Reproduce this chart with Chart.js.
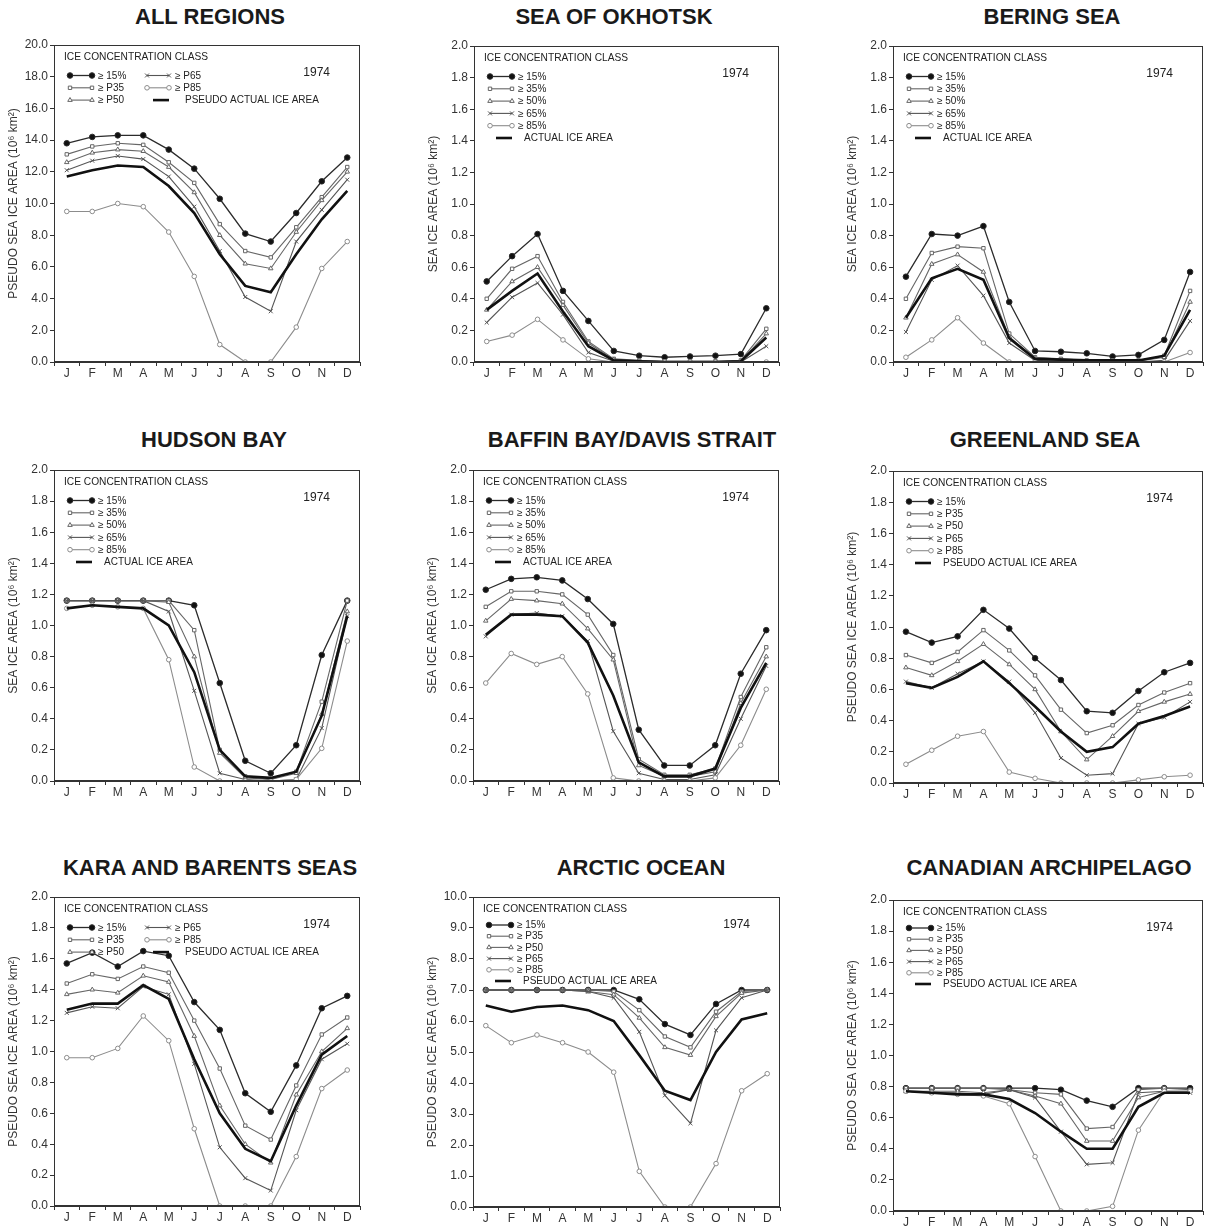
<!DOCTYPE html>
<html lang="en">
<head>
  <meta charset="UTF-8" />
  <title>Sea ice area by concentration class, 1974</title>
  <script src="https://cdn.jsdelivr.net/npm/chart.js"></script>
  <style>
    html, body { margin: 0; padding: 0; background: #fff; overflow: hidden; }
    body {
      width: 1208px;
      height: 1227px;
      position: relative;
      font-family: 'Liberation Sans', Arial, sans-serif;
    }
    .title {
      position: absolute;
      font-weight: bold;
      font-size: 22px;
      color: #1a1a1a;
      white-space: nowrap;
      transform: translate(-50%, -50%);
    }
    .panel { position: absolute; }
  </style>
</head>
<body>

<script>
  const months = ['J', 'F', 'M', 'A', 'M', 'J', 'J', 'A', 'S', 'O', 'N', 'D'];

  // All regions
  const ALL_15  = [13.8, 14.2, 14.3, 14.3, 13.4, 12.2, 10.3, 8.1, 7.6, 9.4, 11.4, 12.9];
  const ALL_35  = [13.1, 13.6, 13.8, 13.7, 12.6, 11.3, 8.7, 7.0, 6.6, 8.5, 10.4, 12.3];
  const ALL_50  = [12.6, 13.2, 13.4, 13.3, 12.3, 10.7, 8.0, 6.2, 5.9, 8.2, 10.2, 12.0];
  const ALL_65  = [12.1, 12.7, 13.0, 12.8, 11.7, 9.8, 7.0, 4.1, 3.2, 7.6, 9.6, 11.5];
  const ALL_85  = [9.5, 9.5, 10.0, 9.8, 8.2, 5.4, 1.1, 0.0, 0.0, 2.2, 5.9, 7.6];
  const ALL_ACT = [11.7, 12.1, 12.4, 12.3, 11.1, 9.4, 6.8, 4.8, 4.4, 6.8, 9.0, 10.8];

  // Sea of Okhotsk
  const OKH_15  = [0.51, 0.67, 0.81, 0.45, 0.26, 0.07, 0.04, 0.03, 0.035, 0.04, 0.05, 0.34];
  const OKH_35  = [0.40, 0.59, 0.67, 0.38, 0.13, 0.02, 0.01, 0.005, 0.005, 0.005, 0.01, 0.21];
  const OKH_50  = [0.33, 0.51, 0.60, 0.36, 0.12, 0.015, 0.005, 0, 0, 0, 0.005, 0.18];
  const OKH_65  = [0.25, 0.41, 0.50, 0.30, 0.06, 0.005, 0, 0, 0, 0, 0, 0.10];
  const OKH_85  = [0.13, 0.17, 0.27, 0.14, 0.02, 0, 0, 0, 0, 0, 0, 0.0];
  const OKH_ACT = [0.33, 0.45, 0.56, 0.32, 0.10, 0.01, 0.005, 0, 0, 0, 0.005, 0.155];

  // Bering Sea
  const BER_15  = [0.54, 0.81, 0.80, 0.86, 0.38, 0.07, 0.065, 0.055, 0.035, 0.045, 0.14, 0.57];
  const BER_35  = [0.40, 0.69, 0.73, 0.72, 0.18, 0.03, 0.02, 0.01, 0.01, 0.01, 0.04, 0.45];
  const BER_50  = [0.28, 0.62, 0.68, 0.57, 0.16, 0.02, 0.01, 0.005, 0.005, 0.005, 0.03, 0.38];
  const BER_65  = [0.19, 0.52, 0.61, 0.42, 0.12, 0.01, 0.005, 0, 0, 0, 0.01, 0.26];
  const BER_85  = [0.03, 0.14, 0.28, 0.12, 0.0, 0, 0, 0, 0, 0, 0, 0.06];
  const BER_ACT = [0.28, 0.53, 0.59, 0.52, 0.15, 0.02, 0.015, 0.01, 0.01, 0.01, 0.04, 0.33];

  // Hudson Bay
  const HUD_15  = [1.16, 1.16, 1.16, 1.16, 1.16, 1.13, 0.63, 0.13, 0.05, 0.23, 0.81, 1.16];
  const HUD_35  = [1.16, 1.16, 1.16, 1.16, 1.16, 0.97, 0.20, 0.03, 0.01, 0.06, 0.51, 1.16];
  const HUD_50  = [1.16, 1.16, 1.16, 1.16, 1.15, 0.80, 0.18, 0.02, 0.01, 0.05, 0.43, 1.09];
  const HUD_65  = [1.16, 1.16, 1.16, 1.16, 1.09, 0.58, 0.05, 0.01, 0.0, 0.01, 0.34, 1.06];
  const HUD_85  = [1.11, 1.13, 1.12, 1.11, 0.78, 0.09, 0.0, 0.0, 0.0, 0.01, 0.21, 0.90];
  const HUD_ACT = [1.11, 1.13, 1.12, 1.11, 1.00, 0.70, 0.20, 0.03, 0.02, 0.06, 0.42, 1.06];

  // Baffin Bay / Davis Strait
  const BAF_15  = [1.23, 1.30, 1.31, 1.29, 1.17, 1.01, 0.33, 0.10, 0.10, 0.23, 0.69, 0.97];
  const BAF_35  = [1.12, 1.22, 1.22, 1.20, 1.07, 0.81, 0.14, 0.04, 0.04, 0.08, 0.54, 0.86];
  const BAF_50  = [1.03, 1.17, 1.16, 1.14, 0.98, 0.78, 0.10, 0.03, 0.03, 0.06, 0.50, 0.80];
  const BAF_65  = [0.93, 1.07, 1.08, 1.06, 0.90, 0.32, 0.05, 0.01, 0.01, 0.04, 0.40, 0.74];
  const BAF_85  = [0.63, 0.82, 0.75, 0.80, 0.56, 0.02, 0.0, 0.0, 0.0, 0.02, 0.23, 0.59];
  const BAF_ACT = [0.94, 1.07, 1.07, 1.06, 0.89, 0.55, 0.12, 0.03, 0.03, 0.08, 0.47, 0.76];

  // Greenland Sea
  const GRN_15  = [0.97, 0.90, 0.94, 1.11, 0.99, 0.80, 0.66, 0.46, 0.45, 0.59, 0.71, 0.77];
  const GRN_35  = [0.82, 0.77, 0.84, 0.98, 0.85, 0.69, 0.47, 0.32, 0.37, 0.50, 0.58, 0.64];
  const GRN_50  = [0.74, 0.69, 0.78, 0.89, 0.76, 0.60, 0.33, 0.15, 0.30, 0.46, 0.52, 0.57];
  const GRN_65  = [0.65, 0.61, 0.70, 0.78, 0.65, 0.45, 0.16, 0.05, 0.06, 0.38, 0.42, 0.52];
  const GRN_85  = [0.12, 0.21, 0.30, 0.33, 0.07, 0.03, 0.0, 0.0, 0.0, 0.02, 0.04, 0.05];
  const GRN_ACT = [0.64, 0.61, 0.68, 0.78, 0.64, 0.49, 0.33, 0.20, 0.23, 0.38, 0.43, 0.49];

  // Kara and Barents Seas
  const KAR_15  = [1.57, 1.64, 1.55, 1.65, 1.62, 1.32, 1.14, 0.73, 0.61, 0.91, 1.28, 1.36];
  const KAR_35  = [1.44, 1.50, 1.47, 1.55, 1.51, 1.20, 0.89, 0.52, 0.43, 0.78, 1.11, 1.22];
  const KAR_50  = [1.37, 1.40, 1.38, 1.49, 1.45, 1.10, 0.65, 0.40, 0.28, 0.72, 1.00, 1.15];
  const KAR_65  = [1.25, 1.29, 1.28, 1.42, 1.37, 0.92, 0.38, 0.18, 0.10, 0.62, 0.95, 1.05];
  const KAR_85  = [0.96, 0.96, 1.02, 1.23, 1.07, 0.50, 0.0, 0.0, 0.0, 0.32, 0.76, 0.88];
  const KAR_ACT = [1.27, 1.31, 1.31, 1.43, 1.34, 0.95, 0.60, 0.37, 0.29, 0.65, 0.98, 1.10];

  // Arctic Ocean
  const ARC_15  = [7.0, 7.0, 7.0, 7.0, 7.0, 7.0, 6.7, 5.9, 5.55, 6.55, 7.0, 7.0];
  const ARC_35  = [7.0, 7.0, 7.0, 7.0, 7.0, 6.95, 6.35, 5.5, 5.15, 6.3, 6.95, 7.0];
  const ARC_50  = [7.0, 7.0, 7.0, 7.0, 6.95, 6.85, 6.1, 5.15, 4.9, 6.15, 6.9, 7.0];
  const ARC_65  = [7.0, 7.0, 7.0, 7.0, 6.95, 6.75, 5.65, 3.6, 2.7, 5.7, 6.75, 7.0];
  const ARC_85  = [5.85, 5.3, 5.55, 5.3, 5.0, 4.35, 1.15, 0.0, 0.0, 1.4, 3.75, 4.3];
  const ARC_ACT = [6.5, 6.3, 6.45, 6.5, 6.35, 6.0, 4.9, 3.75, 3.45, 5.0, 6.05, 6.25];

  // Canadian Archipelago
  const CAN_15  = [0.79, 0.79, 0.79, 0.79, 0.79, 0.79, 0.78, 0.71, 0.67, 0.79, 0.79, 0.79];
  const CAN_35  = [0.79, 0.79, 0.79, 0.79, 0.78, 0.76, 0.75, 0.53, 0.54, 0.78, 0.79, 0.78];
  const CAN_50  = [0.77, 0.77, 0.77, 0.76, 0.78, 0.74, 0.69, 0.45, 0.45, 0.73, 0.77, 0.77];
  const CAN_65  = [0.77, 0.76, 0.76, 0.75, 0.78, 0.73, 0.51, 0.30, 0.31, 0.76, 0.77, 0.76];
  const CAN_85  = [0.77, 0.76, 0.75, 0.74, 0.69, 0.35, 0.0, 0.0, 0.03, 0.52, 0.77, 0.77];
  const CAN_ACT = [0.77, 0.76, 0.75, 0.75, 0.72, 0.63, 0.51, 0.40, 0.40, 0.67, 0.76, 0.76];

  const labelsPlain  = ['\u2265 15%', '\u2265 35%', '\u2265 50%', '\u2265 65%', '\u2265 85%', 'ACTUAL ICE AREA'];
  const labelsPseudo = ['\u2265 15%', '\u2265 P35', '\u2265 P50', '\u2265 P65', '\u2265 P85', 'PSEUDO ACTUAL ICE AREA'];
  const yTitlePlain  = 'SEA ICE AREA (10\u2076 km\u00B2)';
  const yTitlePseudo = 'PSEUDO SEA ICE AREA (10\u2076 km\u00B2)';

  // look of each concentration class (same order as the data arrays)
  const seriesStyle = [
    { color: '#2b2b2b', width: 1.3, point: 'circle',   radius: 2.8, fill: '#111' },
    { color: '#666',    width: 1.1, point: 'rect',     radius: 2.4, fill: '#fff' },
    { color: '#666',    width: 1.1, point: 'triangle', radius: 2.6, fill: '#fff' },
    { color: '#555',    width: 1.1, point: 'crossRot', radius: 2.8, fill: '#555' },
    { color: '#8c8c8c', width: 1.1, point: 'circle',   radius: 2.3, fill: '#fff' },
    { color: '#111',    width: 2.6, point: false,      radius: 0,   fill: '#111' }
  ];

  // box = plot area [left, top, right, bottom] in page pixels
  const panels = [
    { title: 'ALL REGIONS', tx: 210, ty: 17, box: [54, 45, 362, 362], max: 20, step: 2, pseudo: true, twoCol: true,
      data: [ALL_15, ALL_35, ALL_50, ALL_65, ALL_85, ALL_ACT] },
    { title: 'SEA OF OKHOTSK', tx: 614, ty: 17, box: [474, 46, 781, 362], max: 2, step: 0.2, pseudo: false,
      data: [OKH_15, OKH_35, OKH_50, OKH_65, OKH_85, OKH_ACT] },
    { title: 'BERING SEA', tx: 1052, ty: 17, box: [893, 46, 1205, 362], max: 2, step: 0.2, pseudo: false,
      data: [BER_15, BER_35, BER_50, BER_65, BER_85, BER_ACT] },
    { title: 'HUDSON BAY', tx: 214, ty: 440, box: [54, 470, 362, 781], max: 2, step: 0.2, pseudo: false,
      data: [HUD_15, HUD_35, HUD_50, HUD_65, HUD_85, HUD_ACT] },
    { title: 'BAFFIN BAY/DAVIS STRAIT', tx: 632, ty: 440, box: [473, 470, 781, 781], max: 2, step: 0.2, pseudo: false,
      data: [BAF_15, BAF_35, BAF_50, BAF_65, BAF_85, BAF_ACT] },
    { title: 'GREENLAND SEA', tx: 1045, ty: 440, box: [893, 471, 1205, 783], max: 2, step: 0.2, pseudo: true,
      data: [GRN_15, GRN_35, GRN_50, GRN_65, GRN_85, GRN_ACT] },
    { title: 'KARA AND BARENTS SEAS', tx: 210, ty: 868, box: [54, 897, 362, 1206], max: 2, step: 0.2, pseudo: true, twoCol: true,
      data: [KAR_15, KAR_35, KAR_50, KAR_65, KAR_85, KAR_ACT] },
    { title: 'ARCTIC OCEAN', tx: 641, ty: 868, box: [473, 897, 782, 1207], max: 10, step: 1, pseudo: true, tight: true,
      data: [ARC_15, ARC_35, ARC_50, ARC_65, ARC_85, ARC_ACT] },
    { title: 'CANADIAN ARCHIPELAGO', tx: 1049, ty: 868, box: [893, 900, 1205, 1211], max: 2, step: 0.2, pseudo: true, tight: true,
      data: [CAN_15, CAN_35, CAN_50, CAN_65, CAN_85, CAN_ACT] }
  ];

  const FONT = "'Liberation Sans', Arial, sans-serif";
  const INK = '#333';

  // box round the plot area
  const frame = {
    id: 'frame',
    afterDraw(chart) {
      const { ctx, chartArea: a } = chart;
      ctx.save();
      ctx.strokeStyle = INK;
      ctx.lineWidth = 1;
      ctx.strokeRect(Math.round(a.left) + 0.5, Math.round(a.top) + 0.5,
                     Math.round(a.width) - 1, Math.round(a.height) - 1);
      ctx.restore();
    }
  };

  // legend block drawn inside the plot, top left, plus the year
  const iceLegend = {
    id: 'iceLegend',
    afterDraw(chart, args, opts) {
      const { ctx, chartArea: a } = chart;
      const start = opts.tight ? 28 : 30.5;
      const gap = opts.tight ? 11.2 : 12.3;
      ctx.save();
      ctx.textBaseline = 'middle';
      ctx.fillStyle = '#222';
      ctx.font = '10.2px ' + FONT;
      ctx.fillText('ICE CONCENTRATION CLASS', a.left + 10, a.top + 12);

      ctx.font = '12px ' + FONT;
      ctx.textAlign = 'right';
      ctx.fillText('1974', a.right - 30, a.top + 28);
      ctx.textAlign = 'left';

      chart.data.datasets.forEach((ds, i) => {
        let col = 0, row = i;
        if (opts.twoCol && i > 2) { col = 1; row = i - 3; }
        const y = a.top + start + row * gap;
        const base = col === 0 ? a.left : a.left + 77;
        let x1 = base + 16, x2 = base + 38, tx = base + 44;
        if (!ds.pointStyle) {
          x1 = base + 22; x2 = base + 38;
          tx = opts.twoCol ? base + 54 : base + 50;
        }
        ctx.strokeStyle = ds.borderColor;
        ctx.lineWidth = ds.borderWidth;
        ctx.beginPath();
        ctx.moveTo(x1, y);
        ctx.lineTo(x2, y);
        ctx.stroke();
        if (ds.pointStyle) {
          ctx.fillStyle = ds.pointBackgroundColor;
          ctx.strokeStyle = ds.pointBorderColor;
          ctx.lineWidth = 1;
          const p = { pointStyle: ds.pointStyle, radius: ds.pointRadius, borderWidth: 1, rotation: 0 };
          Chart.helpers.drawPoint(ctx, p, x1, y);
          Chart.helpers.drawPoint(ctx, p, x2, y);
        }
        ctx.fillStyle = '#222';
        ctx.font = '10px ' + FONT;
        ctx.fillText(ds.label, tx, y + 0.5);
      });
      ctx.restore();
    }
  };

  panels.forEach((p, n) => {
    const [L, T, R, B] = p.box;

    const title = document.createElement('div');
    title.className = 'title';
    title.style.left = p.tx + 'px';
    title.style.top = p.ty + 'px';
    title.textContent = p.title;
    document.body.appendChild(title);

    const wrap = document.createElement('div');
    wrap.className = 'panel';
    wrap.style.left = (L - 56) + 'px';
    wrap.style.top = (T - 10) + 'px';
    wrap.style.width = (R - L + 59) + 'px';
    wrap.style.height = (B - T + 34) + 'px';
    const canvas = document.createElement('canvas');
    canvas.id = 'chart' + n;
    wrap.appendChild(canvas);
    document.body.appendChild(wrap);

    const names = p.pseudo ? labelsPseudo : labelsPlain;

    new Chart(canvas.getContext('2d'), {
      type: 'line',
      data: {
        labels: months,
        datasets: p.data.map((values, i) => ({
          label: names[i],
          data: values,
          borderColor: seriesStyle[i].color,
          borderWidth: seriesStyle[i].width,
          pointStyle: seriesStyle[i].point,
          pointRadius: seriesStyle[i].radius,
          pointBackgroundColor: seriesStyle[i].fill,
          pointBorderColor: seriesStyle[i].color,
          pointBorderWidth: 1,
          tension: 0,
          order: i === 5 ? 0 : 6 - i
        }))
      },
      options: {
        responsive: true,
        maintainAspectRatio: false,
        animation: false,
        layout: { padding: { top: 10, right: 3, left: 0, bottom: 0 } },
        plugins: {
          legend: { display: false },
          tooltip: { enabled: false },
          iceLegend: { twoCol: !!p.twoCol, tight: !!p.tight }
        },
        scales: {
          x: {
            offset: true,
            grid: { offset: true, drawOnChartArea: false, tickLength: 4, color: INK },
            border: { color: INK },
            ticks: { font: { family: FONT, size: 12 }, color: INK, padding: 0, maxRotation: 0, autoSkip: false },
            afterFit(s) { s.height = 24; }
          },
          y: {
            min: 0,
            max: p.max,
            grid: { drawOnChartArea: false, tickLength: 4, color: INK },
            border: { color: INK },
            ticks: {
              stepSize: p.step,
              font: { family: FONT, size: 12 },
              color: INK,
              padding: 2,
              callback: v => Number(v).toFixed(1)
            },
            title: {
              display: true,
              text: p.pseudo ? yTitlePseudo : yTitlePlain,
              font: { family: FONT, size: 12 },
              color: INK,
              padding: { top: 8, bottom: 0 }
            },
            afterFit(s) { s.width = 56; }
          }
        }
      },
      plugins: [frame, iceLegend]
    });
  });
</script>

</body>
</html>
